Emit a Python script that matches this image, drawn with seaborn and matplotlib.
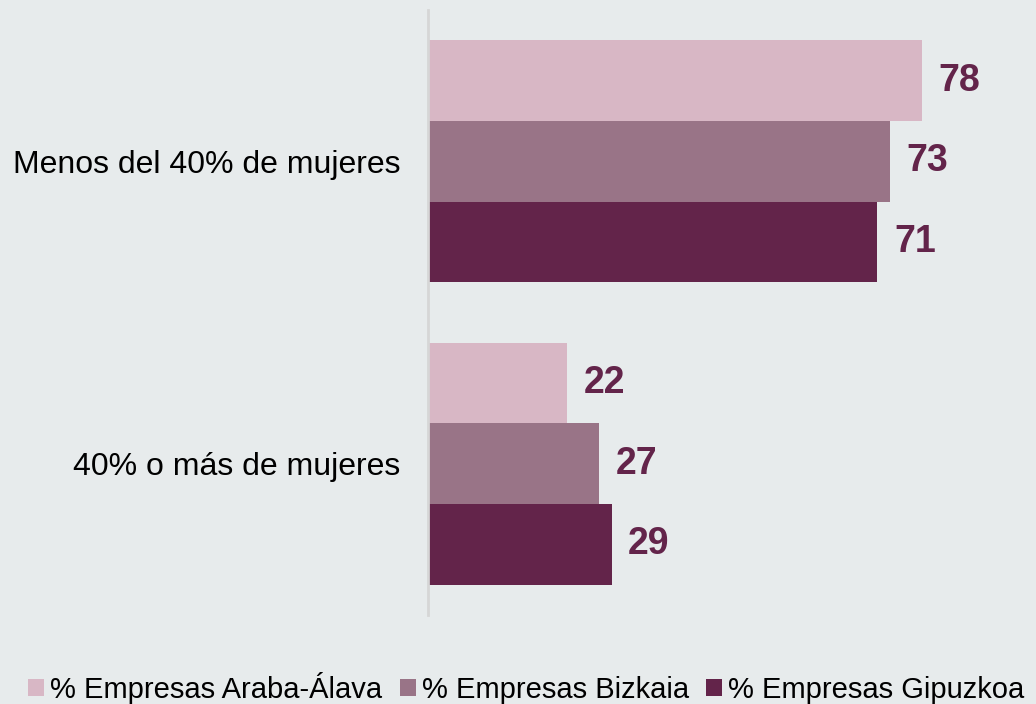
import pandas as pd
import matplotlib.pyplot as plt
import seaborn as sns
from matplotlib.patches import Patch

# data
categories = ['Menos del 40% de mujeres', '40% o más de mujeres']
series = ['% Empresas Araba-Álava', '% Empresas Bizkaia', '% Empresas Gipuzkoa']
alava = [78, 22]
bizkaia = [73, 27]
gipuzkoa = [71, 29]
colors = ['#D8B7C5', '#997487', '#63244A']
bg = '#E7EBEC'

rows = []
for s, vals in zip(series, [alava, bizkaia, gipuzkoa]):
    for c, v in zip(categories, vals):
        rows.append({'categoria': c, 'serie': s, 'valor': v})
df = pd.DataFrame(rows)

sns.set_style('white')
plt.rcParams['font.family'] = ['Liberation Sans', 'DejaVu Sans']

fig = plt.figure(figsize=(10.36, 7.04), dpi=100, facecolor=bg)
ax = fig.add_axes([428 / 1036, 89 / 704, 600 / 1036, 605 / 704])
ax.set_facecolor(bg)

sns.barplot(data=df, y='categoria', x='valor', hue='serie', order=categories,
            hue_order=series, palette=colors, orient='h', width=0.8,
            linewidth=0, saturation=1, legend=False, ax=ax)

for cont in ax.containers:
    ax.bar_label(cont, padding=12, fontsize=27, fontweight='bold', color='#63244A')

ax.set_xlim(0, 600 / 6.33)
ax.set_ylim(1.5, -0.5)
ax.set_xlabel('')
ax.set_ylabel('')
ax.set_xticks([])
ax.tick_params(axis='y', length=0, pad=20, labelsize=23, labelcolor='#000000')
for side in ['top', 'right', 'bottom']:
    ax.spines[side].set_visible(False)
ax.spines['left'].set_color('#D6D6D6')
ax.spines['left'].set_linewidth(2)

handles = [Patch(facecolor=c, edgecolor='none') for c in colors]
fig.legend(handles, series, loc='center', bbox_to_anchor=(0.508, 16 / 704), ncol=3,
           frameon=False, fontsize=21, labelcolor='#000000', handlelength=0.55,
           handleheight=0.55, handletextpad=0.2, columnspacing=0.6, borderaxespad=0)

fig.savefig('out.png', dpi=100, facecolor=bg)
